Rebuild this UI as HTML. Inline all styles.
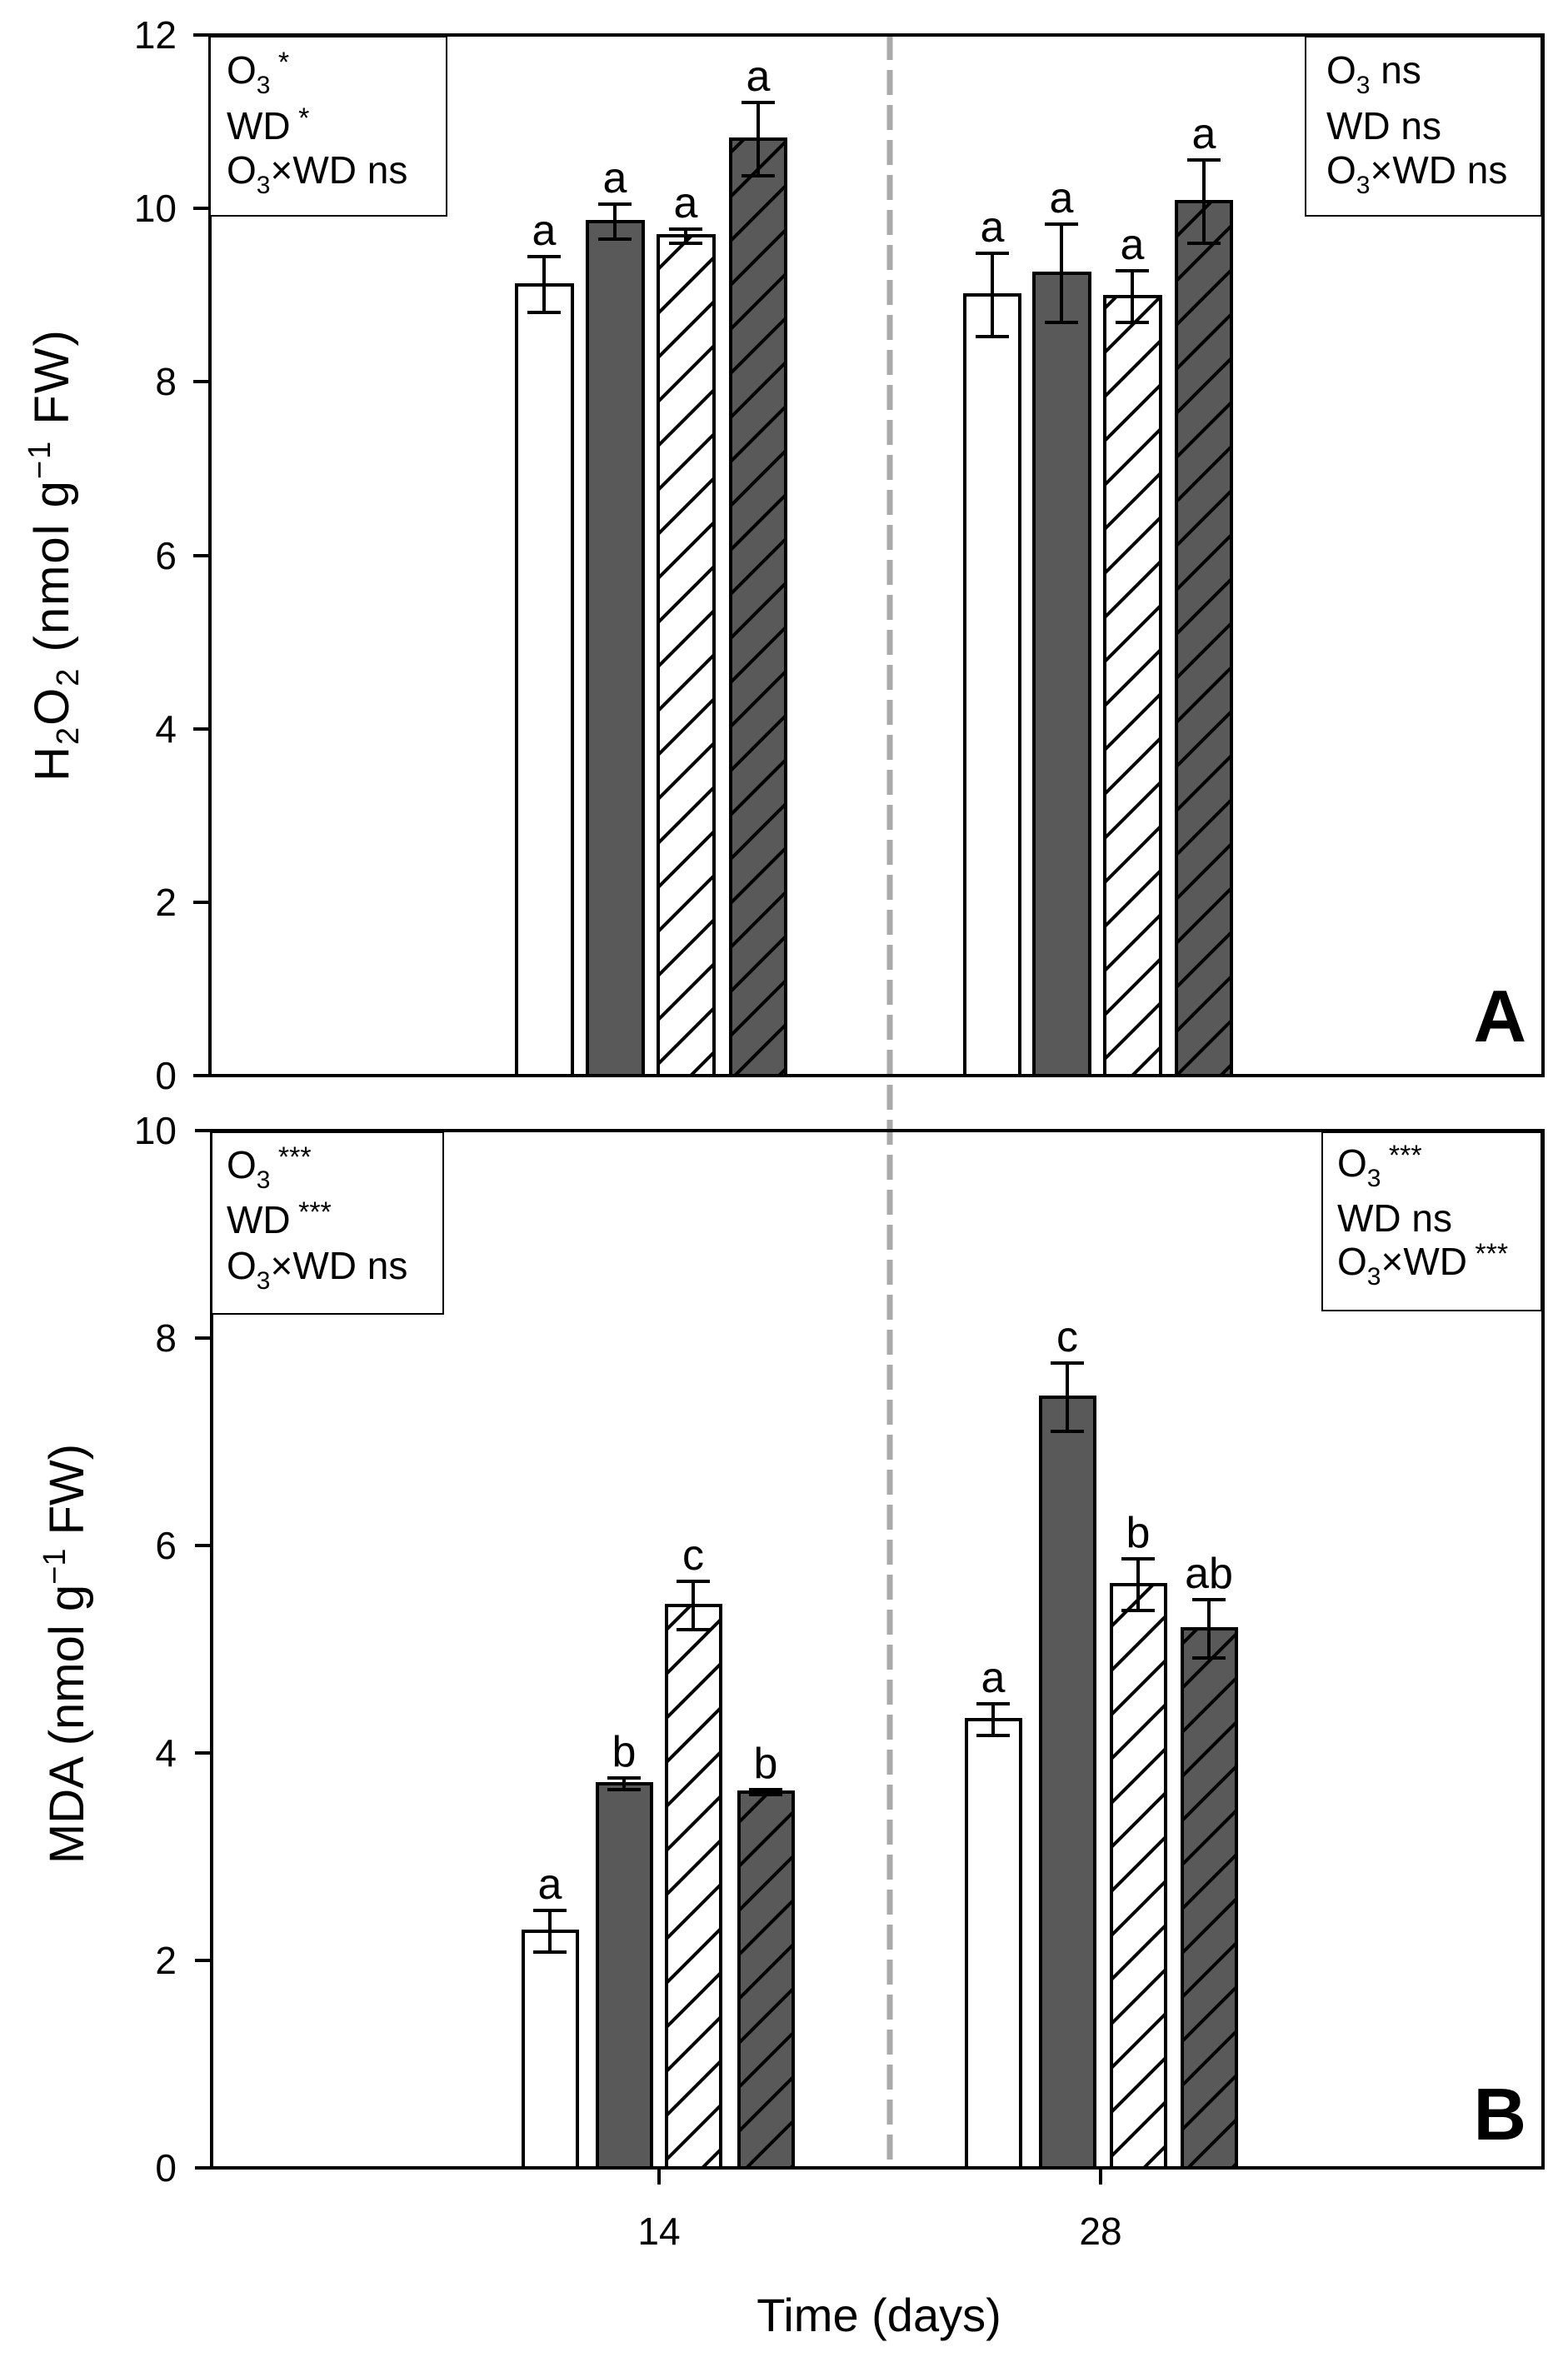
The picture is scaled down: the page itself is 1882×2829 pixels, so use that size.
<!DOCTYPE html>
<html><head><meta charset="utf-8"><style>body{margin:0;background:#fff}svg{display:block}</style></head><body>
<svg width="1882" height="2829" viewBox="0 0 1882 2829" xmlns="http://www.w3.org/2000/svg" font-family="Liberation Sans, Arial, sans-serif">
<defs>
<pattern id="hw" patternUnits="userSpaceOnUse" width="53" height="53">
<rect width="53" height="53" fill="#fff"/><path d="M-5,58 L58,-5 M-10,10 L10,-10 M43,63 L63,43" stroke="#000" stroke-width="4"/></pattern>
<pattern id="hd" patternUnits="userSpaceOnUse" width="53" height="53">
<rect width="53" height="53" fill="#595959"/><path d="M-5,58 L58,-5 M-10,10 L10,-10 M43,63 L63,43" stroke="#000" stroke-width="4"/></pattern>
</defs>
<line x1="1068" y1="42" x2="1068" y2="2602" stroke="#aaa" stroke-width="7" stroke-dasharray="30,12"/>
<g stroke="#000" stroke-width="4">
<rect x="620" y="342" width="67" height="949" fill="#fff"/>
<rect x="705" y="266" width="67" height="1025" fill="#595959"/>
<rect x="790" y="283" width="67" height="1008" fill="url(#hw)"/>
<rect x="877" y="167" width="66" height="1124" fill="url(#hd)"/>
<rect x="1158" y="354" width="66" height="937" fill="#fff"/>
<rect x="1241" y="328" width="67" height="963" fill="#595959"/>
<rect x="1326" y="356" width="67" height="935" fill="url(#hw)"/>
<rect x="1412" y="242" width="66" height="1049" fill="url(#hd)"/>
<path fill="none" d="M653,308V375M633,308H673M633,375H673 M738,245V287M718,245H758M718,287H758 M823,275V292M803,275H843M803,292H843 M910,123V211M890,123H930M890,211H930 M1191,304V404M1171,304H1211M1171,404H1211 M1274,269V387M1254,269H1294M1254,387H1294 M1359,325V387M1339,325H1379M1339,387H1379 M1445,192V292M1425,192H1465M1425,292H1465"/>
</g>
<g font-size="52" text-anchor="middle">
<text x="653" y="294">a</text><text x="738" y="231">a</text><text x="823" y="261">a</text><text x="910" y="109">a</text>
<text x="1191" y="290">a</text><text x="1274" y="255">a</text><text x="1359" y="311">a</text><text x="1445" y="178">a</text>
</g>
<rect x="252" y="42" width="1600" height="1249" fill="none" stroke="#000" stroke-width="4"/>
<path stroke="#000" stroke-width="4" d="M232,1291H252M232,1083H252M232,875H252M232,667H252M232,458H252M232,250H252M232,42H252"/>
<g font-size="46" text-anchor="end">
<text x="212" y="1307">0</text><text x="212" y="1099">2</text><text x="212" y="891">4</text><text x="212" y="683">6</text><text x="212" y="474">8</text><text x="212" y="266">10</text><text x="212" y="58">12</text>
</g>
<rect x="252" y="44" width="284" height="215" fill="#fff" stroke="#000" stroke-width="2"/>
<g font-size="46">
<text x="272" y="100">O<tspan font-size="30" dy="12">3</tspan><tspan font-size="34" dy="-26"> *</tspan></text>
<text x="272" y="167">WD<tspan font-size="34" dy="-14"> *</tspan></text>
<text x="272" y="220">O<tspan font-size="30" dy="12">3</tspan><tspan dy="-12">×WD ns</tspan></text>
</g>
<rect x="1567" y="44" width="283" height="215" fill="#fff" stroke="#000" stroke-width="2"/>
<g font-size="46">
<text x="1592" y="100">O<tspan font-size="30" dy="12">3</tspan><tspan dy="-12"> ns</tspan></text>
<text x="1592" y="167">WD ns</text>
<text x="1592" y="220">O<tspan font-size="30" dy="12">3</tspan><tspan dy="-12">×WD ns</tspan></text>
</g>
<text x="1832" y="1250" font-size="88" font-weight="bold" text-anchor="end">A</text>
<text transform="translate(82,666) rotate(-90)" font-size="58" text-anchor="middle" letter-spacing="2">H<tspan font-size="38" dy="12">2</tspan><tspan dy="-12">O</tspan><tspan font-size="38" dy="12">2</tspan><tspan dy="-12"> (nmol g</tspan><tspan font-size="38" dy="-22">−1</tspan><tspan dy="22">  FW)</tspan></text>
<g stroke="#000" stroke-width="4">
<rect x="628" y="2318" width="65" height="284" fill="#fff"/>
<rect x="717" y="2141" width="65" height="461" fill="#595959"/>
<rect x="800" y="1927" width="65" height="675" fill="url(#hw)"/>
<rect x="887" y="2151" width="65" height="451" fill="url(#hd)"/>
<rect x="1160" y="2064" width="65" height="538" fill="#fff"/>
<rect x="1249" y="1677" width="65" height="925" fill="#595959"/>
<rect x="1334" y="1902" width="65" height="700" fill="url(#hw)"/>
<rect x="1419" y="1955" width="65" height="647" fill="url(#hd)"/>
<path fill="none" d="M660,2293V2343M640,2293H680M640,2343H680 M749,2134V2148M729,2134H769M729,2148H769 M832,1898V1956M812,1898H852M812,1956H852 M919,2148V2154M899,2148H939M899,2154H939 M1192,2045V2083M1172,2045H1212M1172,2083H1212 M1281,1636V1718M1261,1636H1301M1261,1718H1301 M1366,1871V1933M1346,1871H1386M1346,1933H1386 M1451,1920V1990M1431,1920H1471M1431,1990H1471"/>
</g>
<g font-size="52" text-anchor="middle">
<text x="660" y="2279">a</text><text x="749" y="2120">b</text><text x="832" y="1884">c</text><text x="919" y="2134">b</text>
<text x="1192" y="2031">a</text><text x="1281" y="1622">c</text><text x="1366" y="1857">b</text><text x="1451" y="1906">ab</text>
</g>
<rect x="254" y="1357" width="1598" height="1245" fill="none" stroke="#000" stroke-width="4"/>
<path stroke="#000" stroke-width="4" d="M234,2602H254M234,2353H254M234,2104H254M234,1855H254M234,1606H254M234,1357H254M791,2602V2622M1321,2602V2622"/>
<g font-size="46" text-anchor="end">
<text x="212" y="2618">0</text><text x="212" y="2369">2</text><text x="212" y="2120">4</text><text x="212" y="1871">6</text><text x="212" y="1622">8</text><text x="212" y="1373">10</text>
</g>
<g font-size="46" text-anchor="middle"><text x="791" y="2694">14</text><text x="1321" y="2694">28</text></g>
<rect x="254" y="1359" width="278" height="218" fill="#fff" stroke="#000" stroke-width="2"/>
<g font-size="46">
<text x="272" y="1414">O<tspan font-size="30" dy="12">3</tspan><tspan font-size="34" dy="-26"> ***</tspan></text>
<text x="272" y="1480">WD<tspan font-size="34" dy="-14"> ***</tspan></text>
<text x="272" y="1535">O<tspan font-size="30" dy="12">3</tspan><tspan dy="-12">×WD ns</tspan></text>
</g>
<rect x="1587" y="1359" width="263" height="214" fill="#fff" stroke="#000" stroke-width="2"/>
<g font-size="46">
<text x="1605" y="1412">O<tspan font-size="30" dy="12">3</tspan><tspan font-size="34" dy="-26"> ***</tspan></text>
<text x="1605" y="1478">WD ns</text>
<text x="1605" y="1530">O<tspan font-size="30" dy="12">3</tspan><tspan dy="-12">×WD</tspan><tspan font-size="34" dy="-14"> ***</tspan></text>
</g>
<text x="1832" y="2568" font-size="88" font-weight="bold" text-anchor="end">B</text>
<text transform="translate(100,1985) rotate(-90)" font-size="58" text-anchor="middle">MDA (nmol g<tspan font-size="38" dy="-22">−1</tspan><tspan dy="22"> FW)</tspan></text>
<text x="1055" y="2798" font-size="56" text-anchor="middle">Time (days)</text>
</svg>
</body></html>
